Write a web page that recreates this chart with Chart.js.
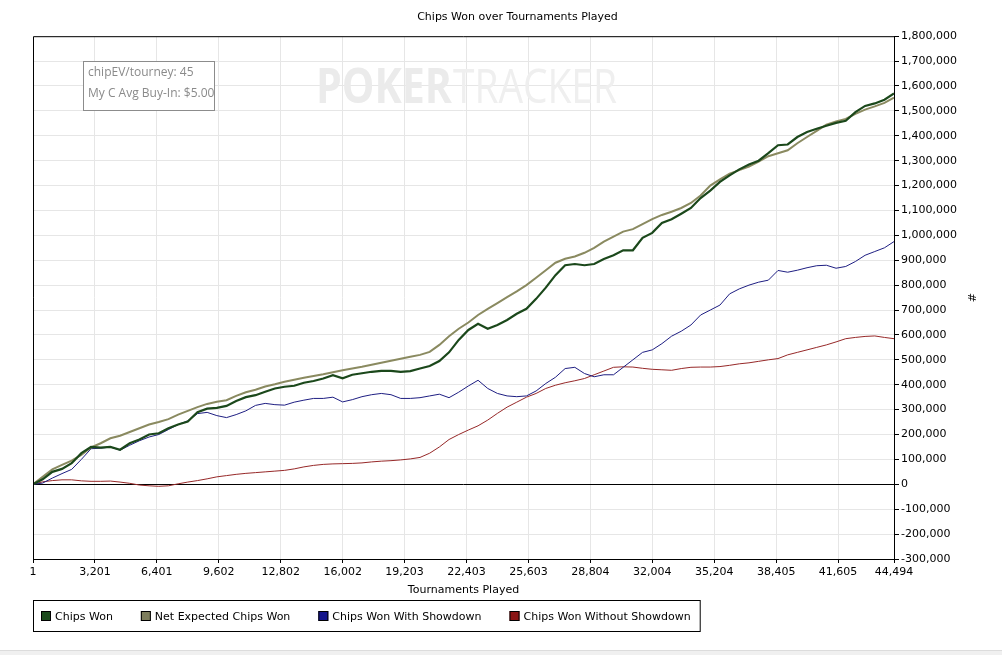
<!DOCTYPE html>
<html>
<head>
<meta charset="utf-8">
<script src="https://cdn.jsdelivr.net/npm/chart.js@4.4.1/dist/chart.umd.min.js"></script>
<style>
    html, body { margin: 0; padding: 0; background: #ffffff; }
    #wrap { width: 1002px; height: 655px; position: relative; }
</style>
</head>
<body>
<div id="wrap"><canvas id="graficoChips"></canvas></div>
<script>

// tournaments played (x positions of the samples)
const tourneys = [
    1, 500, 1000, 1500, 2000, 2500, 3000, 3500, 4000, 4500,
    5000, 5500, 6000, 6500, 7000, 7500, 8000, 8500, 9000, 9500,
    10000, 10500, 11000, 11500, 12000, 12500, 13000, 13500, 14000, 14500,
    15000, 15500, 16000, 16500, 17000, 17500, 18000, 18500, 19000, 19500,
    20000, 20500, 21000, 21500, 22000, 22500, 23000, 23500, 24000, 24500,
    25000, 25500, 26000, 26500, 27000, 27500, 28000, 28500, 29000, 29500,
    30000, 30500, 31000, 31500, 32000, 32500, 33000, 33500, 34000, 34500,
    35000, 35500, 36000, 36500, 37000, 37500, 38000, 38500, 39000, 39500,
    40000, 40500, 41000, 41500, 42000, 42500, 43000, 43500, 44000, 44494
];

const chipsWon = [
    0, 20000, 50000, 62000, 85000, 125000, 150000, 147000, 150000, 139000,
    165000, 180000, 200000, 205000, 225000, 240000, 252000, 290000, 304000, 307000,
    315000, 335000, 350000, 358000, 372000, 385000, 392000, 396000, 408000, 415000,
    425000, 438000, 426000, 440000, 446000, 452000, 456000, 456000, 452000, 455000,
    465000, 475000, 495000, 530000, 580000, 620000, 645000, 625000, 640000, 660000,
    685000, 705000, 745000, 790000, 840000, 880000, 885000, 880000, 885000, 905000,
    920000, 940000, 940000, 990000, 1010000, 1050000, 1065000, 1087000, 1110000, 1150000,
    1180000, 1215000, 1241000, 1265000, 1285000, 1300000, 1330000, 1362000, 1365000, 1395000,
    1415000, 1428000, 1440000, 1452000, 1460000, 1495000, 1520000, 1530000, 1545000, 1570000
];

const netExpected = [
    0, 30000, 60000, 78000, 95000, 118000, 148000, 165000, 185000, 195000,
    210000, 225000, 240000, 250000, 262000, 280000, 295000, 310000, 323000, 332000,
    338000, 355000, 370000, 380000, 393000, 402000, 412000, 420000, 428000, 435000,
    442000, 450000, 458000, 465000, 472000, 480000, 488000, 496000, 504000, 512000,
    520000, 532000, 560000, 595000, 625000, 650000, 680000, 705000, 728000, 752000,
    775000, 800000, 830000, 860000, 890000, 906000, 915000, 930000, 950000, 975000,
    995000, 1015000, 1025000, 1045000, 1065000, 1082000, 1095000, 1110000, 1130000, 1160000,
    1200000, 1225000, 1248000, 1262000, 1276000, 1296000, 1318000, 1330000, 1342000, 1370000,
    1395000, 1420000, 1445000, 1458000, 1468000, 1488000, 1505000, 1518000, 1532000, 1553000
];

const comShowdown = [
    0, 5000, 25000, 43000, 60000, 100000, 143000, 145000, 150000, 137000,
    157000, 175000, 190000, 200000, 220000, 240000, 255000, 284000, 289000, 276000,
    268000, 280000, 295000, 317000, 325000, 320000, 318000, 330000, 338000, 345000,
    345000, 350000, 331000, 340000, 352000, 360000, 365000, 360000, 345000, 345000,
    348000, 355000, 362000, 348000, 370000, 395000, 418000, 385000, 365000, 355000,
    352000, 355000, 375000, 405000, 430000, 465000, 470000, 445000, 432000, 440000,
    440000, 470000, 500000, 530000, 540000, 565000, 595000, 615000, 640000, 680000,
    700000, 720000, 765000, 785000, 800000, 812000, 820000, 859000, 852000, 860000,
    870000, 878000, 880000, 868000, 875000, 895000, 920000, 935000, 950000, 975000
];

const semShowdown = [
    0, 10000, 15000, 18000, 18000, 14000, 12000, 12000, 13000, 9000,
    4000, -3000, -6000, -8000, -6000, 2000, 9000, 15000, 22000, 30000,
    35000, 40000, 44000, 47000, 50000, 53000, 56000, 62000, 70000, 76000,
    80000, 82000, 83000, 84000, 86000, 90000, 93000, 95000, 98000, 102000,
    108000, 125000, 150000, 180000, 200000, 218000, 235000, 258000, 285000, 310000,
    330000, 350000, 365000, 385000, 398000, 408000, 416000, 425000, 440000, 455000,
    470000, 472000, 471000, 466000, 462000, 460000, 458000, 465000, 470000, 471000,
    471000, 473000, 478000, 484000, 488000, 494000, 500000, 505000, 520000, 530000,
    540000, 550000, 560000, 572000, 585000, 590000, 594000, 596000, 590000, 585000
];

const xTicks = [1, 3201, 6401, 9602, 12802, 16002, 19203, 22403, 25603, 28804, 32004, 35204, 38405, 41605, 44494];

const nomes = ["Chips Won", "Net Expected Chips Won", "Chips Won With Showdown", "Chips Won Without Showdown"];
const coresLinha = ["#1b481b", "#8a8a60", "#1e1e82", "#962828"];
const coresLegenda = ["#1c4a1c", "#7e7e5c", "#14148c", "#8b1515"];

const fonte = "'DejaVu Sans', sans-serif";

function pontos(valores) {
    return valores.map((v, i) => ({ x: tourneys[i], y: v }));
}

// frame, watermark, info box, legend
const extras = {
    id: "extras",
    beforeDatasetsDraw(chart) {
        const ctx = chart.ctx;
        ctx.save();
        ctx.fillStyle = "#ebebeb";
        ctx.textBaseline = "alphabetic";
        ctx.font = "bold 48px 'Open Sans', sans-serif";
        let w = ctx.measureText("POKER").width;
        ctx.translate(316, 103);
        ctx.scale(136 / w, 1);
        ctx.fillText("POKER", 0, 0);
        ctx.restore();

        ctx.save();
        ctx.fillStyle = "#efefef";
        ctx.font = "48px 'Open Sans', sans-serif";
        w = ctx.measureText("TRACKER").width;
        ctx.translate(453, 103);
        ctx.scale(164 / w, 1);
        ctx.fillText("TRACKER", 0, 0);
        ctx.restore();
    },
    afterDraw(chart) {
        const ctx = chart.ctx;
        const area = chart.chartArea;

        ctx.save();
        ctx.strokeStyle = "#000000";
        ctx.lineWidth = 1;
        ctx.beginPath();
        ctx.moveTo(area.left + 0.5, area.bottom);
        ctx.lineTo(area.left + 0.5, area.top + 0.5);
        ctx.lineTo(area.right, area.top + 0.5);
        ctx.stroke();

        // info box
        ctx.fillStyle = "#ffffff";
        ctx.fillRect(83.5, 61.5, 131, 49);
        ctx.strokeStyle = "#8c8c8c";
        ctx.strokeRect(83.5, 61.5, 131, 49);
        ctx.fillStyle = "#8a8a8a";
        ctx.font = "12px 'Open Sans', sans-serif";
        ctx.textBaseline = "middle";
        ctx.textAlign = "left";
        ctx.fillText("chipEV/tourney: 45", 88, 73);
        ctx.fillText("My C Avg Buy-In: $5.00", 88, 94);

        // legend
        ctx.font = "11px " + fonte;
        let x = 41;
        const y = 616;
        chart.data.datasets.forEach((ds, i) => {
            ctx.fillStyle = coresLegenda[i];
            ctx.fillRect(x, y - 5, 10, 10);
            ctx.strokeStyle = "#000000";
            ctx.strokeRect(x + 0.5, y - 4.5, 9, 9);
            ctx.fillStyle = "#000000";
            ctx.fillText(ds.label, x + 14, y + 1);
            x += 14 + ctx.measureText(ds.label).width + 28;
        });
        ctx.strokeStyle = "#000000";
        ctx.strokeRect(33.5, 600.5, x - 28 + 9 - 33, 31);

        // bottom strip
        ctx.fillStyle = "#f0f0f0";
        ctx.fillRect(0, 650, 1002, 5);
        ctx.fillStyle = "#dcdcdc";
        ctx.fillRect(0, 650, 1002, 1);
        ctx.restore();
    }
};

const ctx = document.getElementById("graficoChips");

const grafico = new Chart(ctx, {
    type: "line",
    data: {
        datasets: [
            { label: nomes[0], data: pontos(chipsWon), borderColor: coresLinha[0], borderWidth: 2.2 },
            { label: nomes[1], data: pontos(netExpected), borderColor: coresLinha[1], borderWidth: 2 },
            { label: nomes[2], data: pontos(comShowdown), borderColor: coresLinha[2], borderWidth: 1 },
            { label: nomes[3], data: pontos(semShowdown), borderColor: coresLinha[3], borderWidth: 1 }
        ]
    },
    plugins: [extras],
    options: {
        responsive: true,
        maintainAspectRatio: false,
        animation: false,
        layout: {
            padding: { left: 33, right: 0, top: 0, bottom: 46 }
        },
        elements: {
            point: { radius: 0 },
            line: { tension: 0, fill: false }
        },
        plugins: {
            legend: { display: false },
            tooltip: { enabled: false },
            title: {
                display: true,
                text: "Chips Won over Tournaments Played",
                color: "#000000",
                font: { family: fonte, size: 11, weight: "normal" },
                padding: { top: 11, bottom: 12 }
            }
        },
        scales: {
            x: {
                type: "linear",
                min: 1,
                max: 44494,
                afterBuildTicks: scale => {
                    scale.ticks = xTicks.map(v => ({ value: v }));
                },
                afterFit: scale => {
                    scale.height = 50;
                },
                ticks: {
                    autoSkip: false,
                    maxRotation: 0,
                    padding: 3,
                    color: "#000000",
                    font: { family: fonte, size: 11 },
                    callback: value => value.toLocaleString("en-US")
                },
                grid: {
                    color: "#e6e6e6",
                    tickColor: "#000000",
                    tickLength: 4
                },
                border: { color: "#000000", width: 1 },
                title: {
                    display: true,
                    text: "Tournaments Played",
                    color: "#000000",
                    font: { family: fonte, size: 11 },
                    padding: { top: 0, bottom: 12 }
                }
            },
            y: {
                position: "right",
                min: -300000,
                max: 1800000,
                afterFit: scale => {
                    scale.width = 108;
                },
                ticks: {
                    stepSize: 100000,
                    padding: 2,
                    color: "#000000",
                    font: { family: fonte, size: 11 },
                    callback: value => value.toLocaleString("en-US")
                },
                grid: {
                    color: c => (c.tick && c.tick.value === 0 ? "#000000" : "#e6e6e6"),
                    tickColor: "#000000",
                    tickLength: 5
                },
                border: { color: "#000000", width: 1 },
                title: {
                    display: true,
                    text: "#",
                    color: "#000000",
                    font: { family: fonte, size: 11 },
                    padding: { top: 25, bottom: 0 }
                }
            }
        }
    }
});
</script>
</body>
</html>
